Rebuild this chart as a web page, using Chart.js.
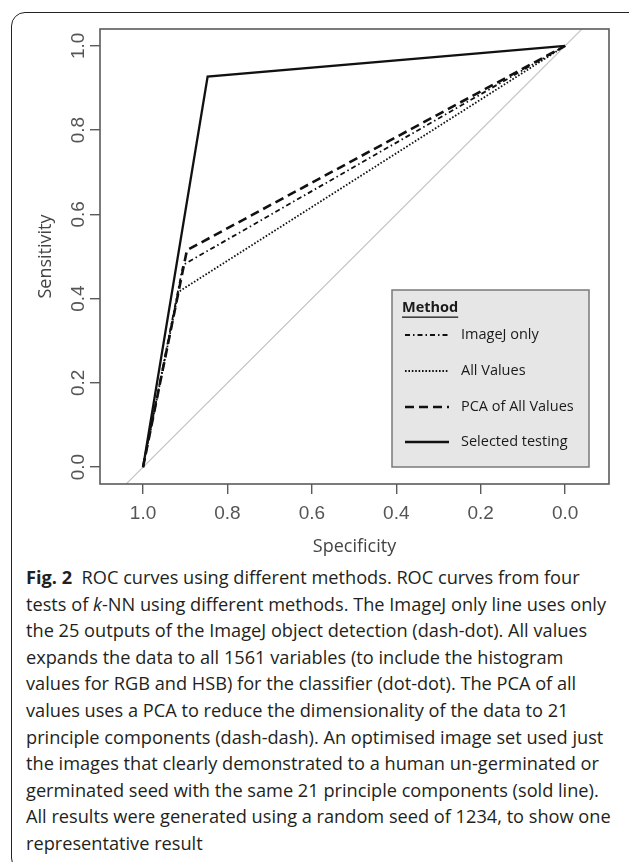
<!DOCTYPE html>
<html>
<head>
<meta charset="utf-8">
<script src="https://cdn.jsdelivr.net/npm/chart.js@4.4.0/dist/chart.umd.min.js"></script>
<style>
  body { margin: 0; width: 629px; height: 862px; background: #fff; position: relative; overflow: hidden; font-family: 'Open Sans', sans-serif; }
  #frame { position: absolute; left: 11px; top: 12px; width: 640px; height: 858px; border: 1.3px solid #222; border-radius: 14px; }
  #wrap { position: absolute; left: 0; top: 0; width: 629px; height: 560px; }
  #caption { position: absolute; left: 26px; top: 564px; font-size: 18.2px; color: #231f20; }
  .ln { white-space: nowrap; height: 26.6px; line-height: 26.6px; }
</style>
</head>
<body>
<div id="frame"></div>
<div id="wrap"><canvas id="myChart"></canvas></div>
<div id="caption">
  <div class="ln"><b>Fig. 2</b>&nbsp;&nbsp;ROC curves using different methods. ROC curves from four</div>
  <div class="ln">tests of <i>k</i>-NN using different methods. The ImageJ only line uses only</div>
  <div class="ln">the 25 outputs of the ImageJ object detection (dash-dot). All values</div>
  <div class="ln">expands the data to all 1561 variables (to include the histogram</div>
  <div class="ln">values for RGB and HSB) for the classifier (dot-dot). The PCA of all</div>
  <div class="ln">values uses a PCA to reduce the dimensionality of the data to 21</div>
  <div class="ln">principle components (dash-dash). An optimised image set used just</div>
  <div class="ln">the images that clearly demonstrated to a human un-germinated or</div>
  <div class="ln">germinated seed with the same 21 principle components (sold line).</div>
  <div class="ln">All results were generated using a random seed of 1234, to show one</div>
  <div class="ln">representative result</div>
</div>
<script>
'use strict';

// ROC points (specificity on x, sensitivity on y)
let seriesNames = ['ImageJ only', 'All Values', 'PCA of All Values', 'Selected testing'];
let specImageJ = [1.0, 0.905, 0.0];
let sensImageJ = [0.0, 0.48, 1.0];
let specAll = [1.0, 0.916, 0.0];
let sensAll = [0.0, 0.416, 1.0];
let specPCA = [1.0, 0.896, 0.0];
let sensPCA = [0.0, 0.515, 1.0];
let specSel = [1.0, 0.847, 0.0];
let sensSel = [0.0, 0.927, 1.0];
let tickValues = [1.0, 0.8, 0.6, 0.4, 0.2, 0.0];

let xMin = -0.104;
let xMax = 1.102;
let yMin = -0.04;
let yMax = 1.04;

function toPoints(xs, ys) {
    return xs.map((x, i) => ({ x: x, y: ys[i] }));
}

function setTicks(scale) {
    scale.ticks = tickValues.map(v => ({ value: v }));
}

let plotBox = {
    id: 'plotBox',
    afterDatasetsDraw(chart) {
        let a = chart.chartArea;
        let ctx = chart.ctx;
        ctx.save();
        ctx.strokeStyle = '#5a5a5a';
        ctx.lineWidth = 1.6;
        ctx.strokeRect(a.left, a.top, a.right - a.left, a.bottom - a.top);
        ctx.restore();
    }
};

let methodLegend = {
    id: 'methodLegend',
    afterDraw(chart) {
        let ctx = chart.ctx;
        ctx.save();
        ctx.fillStyle = '#e6e6e6';
        ctx.fillRect(392, 290, 197, 177);
        ctx.strokeStyle = '#7a7a7a';
        ctx.lineWidth = 1.5;
        ctx.strokeRect(392, 290, 197, 177);

        ctx.fillStyle = '#1a1a1a';
        ctx.textBaseline = 'middle';
        ctx.font = 'bold 14.5px "Open Sans"';
        ctx.fillText('Method', 402, 308);
        let w = ctx.measureText('Method').width;
        ctx.fillRect(402, 316.5, w, 1.3);

        ctx.font = '14.5px "Open Sans"';
        let rows = [335, 371, 407, 442];
        for (let i = 0; i < seriesNames.length; i++) {
            let ds = chart.data.datasets[i];
            ctx.strokeStyle = ds.borderColor;
            ctx.lineWidth = ds.borderWidth;
            ctx.setLineDash(ds.borderDash || []);
            ctx.beginPath();
            ctx.moveTo(405, rows[i]);
            ctx.lineTo(449, rows[i]);
            ctx.stroke();
            ctx.setLineDash([]);
            ctx.fillText(seriesNames[i], 461, rows[i]);
        }
        ctx.restore();
    }
};

let ctx = document.getElementById('myChart').getContext('2d');
let myChart = new Chart(ctx, {
    type: 'scatter',
    data: {
        datasets: [{
            label: seriesNames[0],
            data: toPoints(specImageJ, sensImageJ),
            borderColor: '#111',
            borderWidth: 1.8,
            borderDash: [5, 3, 1.5, 3]
        }, {
            label: seriesNames[1],
            data: toPoints(specAll, sensAll),
            borderColor: '#111',
            borderWidth: 1.8,
            borderDash: [1.6, 1.8]
        }, {
            label: seriesNames[2],
            data: toPoints(specPCA, sensPCA),
            borderColor: '#111',
            borderWidth: 2.6,
            borderDash: [9, 5]
        }, {
            label: seriesNames[3],
            data: toPoints(specSel, sensSel),
            borderColor: '#111',
            borderWidth: 2.3
        }, {
            label: 'chance',
            data: [{ x: xMax, y: 1 - xMax }, { x: xMin, y: 1 - xMin }],
            borderColor: '#c4c4c4',
            borderWidth: 1.2
        }]
    },
    options: {
        responsive: true,
        maintainAspectRatio: false,
        animation: false,
        showLine: true,
        elements: {
            point: { radius: 0 },
            line: { tension: 0, borderJoinStyle: 'miter' }
        },
        layout: { padding: { left: 0, top: 29, right: 20, bottom: 0 } },
        plugins: {
            legend: { display: false },
            tooltip: { enabled: false }
        },
        scales: {
            x: {
                type: 'linear',
                reverse: true,
                min: xMin,
                max: xMax,
                afterBuildTicks: setTicks,
                afterFit(scale) { scale.height = 76; },
                border: { display: false },
                grid: { drawOnChartArea: false, drawTicks: true, tickLength: 10, color: '#5a5a5a', lineWidth: 1.4 },
                ticks: {
                    padding: 8,
                    color: '#555',
                    font: { family: '"Liberation Sans"', size: 19 },
                    callback: v => v.toFixed(1)
                },
                title: {
                    display: true,
                    text: 'Specificity',
                    color: '#444',
                    font: { family: '"Open Sans"', size: 18 },
                    padding: { top: 0, bottom: 2 }
                }
            },
            y: {
                type: 'linear',
                min: yMin,
                max: yMax,
                afterBuildTicks: setTicks,
                afterFit(scale) { scale.width = 100; },
                border: { display: false },
                grid: { drawOnChartArea: false, drawTicks: true, tickLength: 10, color: '#5a5a5a', lineWidth: 1.4 },
                ticks: {
                    padding: -2,
                    color: '#555',
                    minRotation: 90,
                    maxRotation: 90,
                    crossAlign: 'center',
                    font: { family: '"Liberation Sans"', size: 19 },
                    callback: v => v.toFixed(1)
                },
                title: {
                    display: true,
                    text: 'Sensitivity',
                    color: '#444',
                    font: { family: '"Open Sans"', size: 18 },
                    padding: { top: 35, bottom: 0 }
                }
            }
        }
    },
    plugins: [plotBox, methodLegend]
});
</script>
</body>
</html>
